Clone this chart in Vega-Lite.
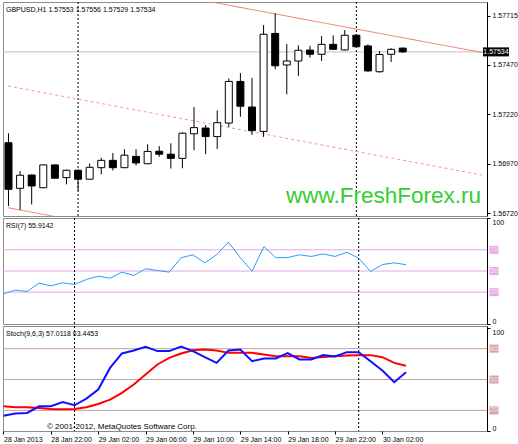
{
  "$schema": "https://vega.github.io/schema/vega-lite/v6.json",
  "background": "white",
  "padding": {"left": 2, "top": 1, "right": 30, "bottom": 6},
  "spacing": 2,
  "bounds": "flush",
  "config": {
    "view": {"stroke": "#8c8c8c", "strokeWidth": 1},
    "font": "Liberation Sans",
    "axis": {"labelFont": "Liberation Sans", "labelFontSize": 7, "labelColor": "#000", "tickColor": "#000", "domainColor": "#000", "grid": false, "tickSize": 3, "labelPadding": 2, "labelOverlap": false},
    "title": {"font": "Liberation Sans", "fontSize": 7, "fontWeight": "normal", "color": "#000", "anchor": "start", "frame": "group", "baseline": "top", "offset": -11, "dx": 3}
  },
  "datasets": {
    "bars": [
      {"t":"2013-01-28T18:00:00Z","o":1.57076,"h":1.57124,"l":1.56757,"c":1.56841,"rsi":28.5,"k":14.9,"d":24.0},
      {"t":"2013-01-28T19:00:00Z","o":1.56846,"h":1.56933,"l":1.56737,"c":1.56912,"rsi":31.9,"k":16.9,"d":23.0},
      {"t":"2013-01-28T20:00:00Z","o":1.56913,"h":1.56916,"l":1.56765,"c":1.56858,"rsi":30.7,"k":17.5,"d":23.0},
      {"t":"2013-01-28T21:00:00Z","o":1.56849,"h":1.56966,"l":1.56846,"c":1.56964,"rsi":38.5,"k":24.0,"d":22.3},
      {"t":"2013-01-28T22:00:00Z","o":1.56964,"h":1.56966,"l":1.56895,"c":1.56897,"rsi":36.0,"k":24.0,"d":21.4},
      {"t":"2013-01-28T23:00:00Z","o":1.56900,"h":1.56941,"l":1.56866,"c":1.56937,"rsi":38.9,"k":28.2,"d":21.1},
      {"t":"2013-01-29T00:00:00Z","o":1.56937,"h":1.56941,"l":1.56833,"c":1.56892,"rsi":37.3,"k":25.0,"d":21.4},
      {"t":"2013-01-29T01:00:00Z","o":1.56892,"h":1.56971,"l":1.56890,"c":1.56952,"rsi":42.0,"k":31.5,"d":23.0},
      {"t":"2013-01-29T02:00:00Z","o":1.56950,"h":1.57000,"l":1.56917,"c":1.56987,"rsi":45.1,"k":40.3,"d":26.2},
      {"t":"2013-01-29T03:00:00Z","o":1.56987,"h":1.57024,"l":1.56936,"c":1.56950,"rsi":43.2,"k":61.3,"d":30.5},
      {"t":"2013-01-29T04:00:00Z","o":1.56950,"h":1.57043,"l":1.56948,"c":1.57013,"rsi":48.9,"k":75.3,"d":37.0},
      {"t":"2013-01-29T05:00:00Z","o":1.57007,"h":1.57043,"l":1.56961,"c":1.56974,"rsi":45.8,"k":78.2,"d":45.1},
      {"t":"2013-01-29T06:00:00Z","o":1.56970,"h":1.57068,"l":1.56968,"c":1.57032,"rsi":52.1,"k":81.7,"d":54.9},
      {"t":"2013-01-29T07:00:00Z","o":1.57033,"h":1.57059,"l":1.57005,"c":1.57018,"rsi":50.5,"k":77.6,"d":64.6},
      {"t":"2013-01-29T08:00:00Z","o":1.57018,"h":1.57073,"l":1.56946,"c":1.56997,"rsi":48.9,"k":77.6,"d":71.0},
      {"t":"2013-01-29T09:00:00Z","o":1.56997,"h":1.57128,"l":1.56947,"c":1.57124,"rsi":62.5,"k":82.1,"d":75.3},
      {"t":"2013-01-29T10:00:00Z","o":1.57121,"h":1.57256,"l":1.57038,"c":1.57152,"rsi":65.3,"k":77.6,"d":78.5},
      {"t":"2013-01-29T11:00:00Z","o":1.57150,"h":1.57165,"l":1.57018,"c":1.57107,"rsi":57.7,"k":71.7,"d":79.2},
      {"t":"2013-01-29T12:00:00Z","o":1.57107,"h":1.57239,"l":1.57044,"c":1.57177,"rsi":65.3,"k":66.2,"d":78.2},
      {"t":"2013-01-29T13:00:00Z","o":1.57175,"h":1.57400,"l":1.57155,"c":1.57385,"rsi":77.2,"k":78.2,"d":75.9},
      {"t":"2013-01-29T14:00:00Z","o":1.57385,"h":1.57427,"l":1.57207,"c":1.57260,"rsi":62.5,"k":79.2,"d":75.9},
      {"t":"2013-01-29T15:00:00Z","o":1.57256,"h":1.57402,"l":1.57115,"c":1.57137,"rsi":49.8,"k":67.8,"d":75.9},
      {"t":"2013-01-29T16:00:00Z","o":1.57133,"h":1.57669,"l":1.57105,"c":1.57623,"rsi":73.1,"k":70.4,"d":74.3},
      {"t":"2013-01-29T17:00:00Z","o":1.57627,"h":1.57729,"l":1.57446,"c":1.57464,"rsi":62.5,"k":70.4,"d":72.7},
      {"t":"2013-01-29T18:00:00Z","o":1.57468,"h":1.57574,"l":1.57320,"c":1.57488,"rsi":62.7,"k":75.6,"d":72.7},
      {"t":"2013-01-29T19:00:00Z","o":1.57488,"h":1.57567,"l":1.57412,"c":1.57542,"rsi":65.3,"k":69.5,"d":72.7},
      {"t":"2013-01-29T20:00:00Z","o":1.57543,"h":1.57565,"l":1.57505,"c":1.57522,"rsi":63.7,"k":69.5,"d":71.0},
      {"t":"2013-01-29T21:00:00Z","o":1.57522,"h":1.57614,"l":1.57488,"c":1.57572,"rsi":66.2,"k":73.7,"d":72.0},
      {"t":"2013-01-29T22:00:00Z","o":1.57572,"h":1.57618,"l":1.57545,"c":1.57547,"rsi":63.7,"k":72.4,"d":72.7},
      {"t":"2013-01-29T23:00:00Z","o":1.57544,"h":1.57644,"l":1.57541,"c":1.57618,"rsi":67.7,"k":76.6,"d":73.4},
      {"t":"2013-01-30T00:00:00Z","o":1.57618,"h":1.57622,"l":1.57558,"c":1.57560,"rsi":62.1,"k":76.6,"d":73.7},
      {"t":"2013-01-30T01:00:00Z","o":1.57564,"h":1.57572,"l":1.57434,"c":1.57438,"rsi":49.5,"k":67.8,"d":73.7},
      {"t":"2013-01-30T02:00:00Z","o":1.57434,"h":1.57538,"l":1.57429,"c":1.57521,"rsi":56.1,"k":58.8,"d":71.7},
      {"t":"2013-01-30T03:00:00Z","o":1.57522,"h":1.57552,"l":1.57483,"c":1.57547,"rsi":57.7,"k":47.4,"d":66.2},
      {"t":"2013-01-30T04:00:00Z","o":1.57553,"h":1.57556,"l":1.57529,"c":1.57534,"rsi":55.9142,"k":57.0118,"d":63.4453}
    ],
    "chan": [
      {"t":"2013-01-28T17:57:28Z","p":1.57977,"ln":"upper"},
      {"t":"2013-01-30T10:50:10Z","p":1.57531,"ln":"upper"},
      {"t":"2013-01-28T17:57:28Z","p":1.56748,"ln":"lower"},
      {"t":"2013-01-30T10:50:10Z","p":1.56301,"ln":"lower"},
      {"t":"2013-01-28T17:57:28Z","p":1.57362,"ln":"mid"},
      {"t":"2013-01-30T10:50:10Z","p":1.56913,"ln":"mid"}
    ],
    "seps": [
      {"t":"2013-01-29T00:00:00Z"},
      {"t":"2013-01-30T00:00:00Z"}
    ],
    "bid": [{"p":1.57534,"label":"1.57534"}],
    "mark": [{"t":"2013-01-30T10:50:00Z","p":1.567734,"txt":"www.FreshForex.ru"}],
    "copy": [{"t":"2013-01-28T21:40:00Z","v":2,"txt":"© 2001-2012, MetaQuotes Software Corp."}],
    "rsiLv": [{"v":70},{"v":50},{"v":30}],
    "stLv": [{"v":80},{"v":50},{"v":20}]
  },
  "vconcat": [
    {
      "width": 484,
      "height": 214,
      "title": {"text": "GBPUSD,H1 1.57553 1.57556 1.57529 1.57534"},
      "layer": [
        {
          "data": {"name": "bid"},
          "mark": {"type": "rule", "color": "#c0c0c0", "strokeWidth": 1},
          "encoding": {
            "y": {"field": "p", "type": "quantitative", "scale": {"domain": [1.567064, 1.577856], "nice": false, "zero": false},
              "axis": {"orient": "right", "title": null, "values": [1.57715, 1.5759, 1.5747, 1.57345, 1.5722, 1.57095, 1.5697, 1.56845, 1.5672], "format": ".5f", "labelFlush": false}}
          }
        },
        {
          "data": {"name": "seps"},
          "mark": {"type": "rule", "color": "#000", "strokeDash": [2, 2], "strokeWidth": 1},
          "encoding": {
            "x": {"field": "t", "type": "temporal", "axis": null, "scale": {"type": "utc", "nice": false, "domain": [{"year":2013,"month":1,"date":28,"hours":17,"minutes":57,"seconds":28,"utc":true},{"year":2013,"month":1,"date":30,"hours":10,"minutes":50,"seconds":10,"utc":true}]}}
          }
        },
        {
          "data": {"name": "chan"},
          "mark": {"type": "line", "clip": true, "strokeWidth": 1},
          "encoding": {
            "x": {"field": "t", "type": "temporal", "axis": null},
            "y": {"field": "p", "type": "quantitative"},
            "detail": {"field": "ln"},
            "color": {"field": "ln", "type": "nominal", "legend": null, "scale": {"domain": ["upper", "lower", "mid"], "range": ["#f07868", "#f07868", "#f39a8a"]}},
            "strokeDash": {"field": "ln", "type": "nominal", "legend": null, "scale": {"domain": ["upper", "lower", "mid"], "range": [[1, 0], [1, 0], [3, 3]]}}
          }
        },
        {
          "data": {"name": "bars"},
          "mark": {"type": "rule", "color": "#000", "strokeWidth": 1, "clip": true},
          "encoding": {
            "x": {"field": "t", "type": "temporal", "axis": null},
            "y": {"field": "l", "type": "quantitative"},
            "y2": {"field": "h"}
          }
        },
        {
          "data": {"name": "bars"},
          "mark": {"type": "bar", "width": 7, "stroke": "#000", "strokeWidth": 1, "orient": "vertical", "clip": true},
          "encoding": {
            "x": {"field": "t", "type": "temporal", "axis": null},
            "y": {"field": "o", "type": "quantitative"},
            "y2": {"field": "c"},
            "fill": {"condition": {"test": "datum.c >= datum.o", "value": "#ffffff"}, "value": "#000000"}
          }
        },
        {
          "data": {"name": "mark"},
          "mark": {"type": "text", "align": "right", "baseline": "alphabetic", "font": "Liberation Sans", "fontSize": 22.5, "color": "#32cd32", "dx": -1},
          "encoding": {
            "x": {"field": "t", "type": "temporal", "axis": null},
            "y": {"field": "p", "type": "quantitative"},
            "text": {"field": "txt"}
          }
        },
        {
          "data": {"name": "bid"},
          "mark": {"type": "tick", "orient": "horizontal", "size": 26, "thickness": 9, "color": "#000", "xOffset": 14, "opacity": 1},
          "encoding": {
            "x": {"datum": {"year":2013,"month":1,"date":30,"hours":10,"minutes":50,"seconds":10,"utc":true}, "type": "temporal"},
            "y": {"field": "p", "type": "quantitative"}
          }
        },
        {
          "data": {"name": "bid"},
          "mark": {"type": "text", "align": "center", "baseline": "middle", "fontSize": 7, "color": "#fff", "dx": 14},
          "encoding": {
            "x": {"datum": {"year":2013,"month":1,"date":30,"hours":10,"minutes":50,"seconds":10,"utc":true}, "type": "temporal"},
            "y": {"field": "p", "type": "quantitative"},
            "text": {"field": "label"}
          }
        }
      ]
    },
    {
      "width": 484,
      "height": 106,
      "title": {"text": "RSI(7) 55.9142"},
      "layer": [
        {
          "data": {"name": "rsiLv"},
          "mark": {"type": "rule", "color": "#e6a6e6", "strokeWidth": 1},
          "encoding": {
            "y": {"field": "v", "type": "quantitative", "scale": {"domain": [0, 100], "nice": false, "zero": false},
              "axis": {"orient": "right", "title": null, "values": [0, 100], "format": "d", "labelFlush": 3}}
          }
        },
        {
          "data": {"name": "seps"},
          "mark": {"type": "rule", "color": "#000", "strokeDash": [2, 2], "strokeWidth": 1},
          "encoding": {
            "x": {"field": "t", "type": "temporal", "axis": null, "scale": {"type": "utc", "nice": false, "domain": [{"year":2013,"month":1,"date":28,"hours":17,"minutes":57,"seconds":28,"utc":true},{"year":2013,"month":1,"date":30,"hours":10,"minutes":50,"seconds":10,"utc":true}]}}
          }
        },
        {
          "data": {"name": "bars"},
          "mark": {"type": "line", "color": "#2f9bff", "strokeWidth": 1, "clip": true},
          "encoding": {
            "x": {"field": "t", "type": "temporal", "axis": null},
            "y": {"field": "rsi", "type": "quantitative"}
          }
        },
        {
          "data": {"name": "rsiLv"},
          "mark": {"type": "tick", "orient": "horizontal", "size": 9, "thickness": 8, "color": "#e4a8e4", "xOffset": 7, "opacity": 1},
          "encoding": {
            "x": {"datum": {"year":2013,"month":1,"date":30,"hours":10,"minutes":50,"seconds":10,"utc":true}, "type": "temporal"},
            "y": {"field": "v", "type": "quantitative"}
          }
        },
        {
          "data": {"name": "rsiLv"},
          "mark": {"type": "text", "align": "center", "baseline": "middle", "fontSize": 7, "color": "#fbe6fb", "dx": 7},
          "encoding": {
            "x": {"datum": {"year":2013,"month":1,"date":30,"hours":10,"minutes":50,"seconds":10,"utc":true}, "type": "temporal"},
            "y": {"field": "v", "type": "quantitative"},
            "text": {"field": "v", "type": "quantitative"}
          }
        }
      ]
    },
    {
      "width": 484,
      "height": 105,
      "title": {"text": "Stoch(9,6,3) 57.0118 63.4453"},
      "layer": [
        {
          "data": {"name": "stLv"},
          "mark": {"type": "rule", "color": "#c8a0a0", "strokeWidth": 1},
          "encoding": {
            "y": {"field": "v", "type": "quantitative", "scale": {"domain": [0, 102], "nice": false, "zero": false},
              "axis": {"orient": "right", "title": null, "values": [0, 100], "format": "d", "labelFlush": 4}}
          }
        },
        {
          "data": {"name": "seps"},
          "mark": {"type": "rule", "color": "#000", "strokeDash": [2, 2], "strokeWidth": 1},
          "encoding": {
            "x": {"field": "t", "type": "temporal", "title": null,
              "scale": {"type": "utc", "nice": false, "domain": [{"year":2013,"month":1,"date":28,"hours":17,"minutes":57,"seconds":28,"utc":true},{"year":2013,"month":1,"date":30,"hours":10,"minutes":50,"seconds":10,"utc":true}]},
              "axis": {"orient": "bottom", "domain": false, "labelAlign": "left", "labelPadding": 1, "labelFlush": false, "labelOverlap": false,
                "values": [
                  {"year":2013,"month":1,"date":28,"hours":18,"utc":true},
                  {"year":2013,"month":1,"date":28,"hours":22,"utc":true},
                  {"year":2013,"month":1,"date":29,"hours":2,"utc":true},
                  {"year":2013,"month":1,"date":29,"hours":6,"utc":true},
                  {"year":2013,"month":1,"date":29,"hours":10,"utc":true},
                  {"year":2013,"month":1,"date":29,"hours":14,"utc":true},
                  {"year":2013,"month":1,"date":29,"hours":18,"utc":true},
                  {"year":2013,"month":1,"date":29,"hours":22,"utc":true},
                  {"year":2013,"month":1,"date":30,"hours":2,"utc":true}
                ],
                "labelExpr": "utcFormat(datum.value, '%d %H') == '28 18' ? '28 Jan 2013' : utcFormat(datum.value, '%d %b %H:%M')"}}
          }
        },
        {
          "data": {"name": "bars"},
          "mark": {"type": "line", "color": "#ff0000", "strokeWidth": 2, "clip": true},
          "encoding": {
            "x": {"field": "t", "type": "temporal"},
            "y": {"field": "d", "type": "quantitative"}
          }
        },
        {
          "data": {"name": "bars"},
          "mark": {"type": "line", "color": "#1010ff", "strokeWidth": 2, "clip": true},
          "encoding": {
            "x": {"field": "t", "type": "temporal"},
            "y": {"field": "k", "type": "quantitative"}
          }
        },
        {
          "data": {"name": "copy"},
          "mark": {"type": "text", "align": "left", "baseline": "alphabetic", "fontSize": 8, "color": "#000"},
          "encoding": {
            "x": {"field": "t", "type": "temporal"},
            "y": {"field": "v", "type": "quantitative"},
            "text": {"field": "txt"}
          }
        },
        {
          "data": {"name": "stLv"},
          "mark": {"type": "tick", "orient": "horizontal", "size": 9, "thickness": 8, "color": "#d4a4a4", "xOffset": 7, "opacity": 1},
          "encoding": {
            "x": {"datum": {"year":2013,"month":1,"date":30,"hours":10,"minutes":50,"seconds":10,"utc":true}, "type": "temporal"},
            "y": {"field": "v", "type": "quantitative"}
          }
        },
        {
          "data": {"name": "stLv"},
          "mark": {"type": "text", "align": "center", "baseline": "middle", "fontSize": 7, "color": "#f7e4e4", "dx": 7},
          "encoding": {
            "x": {"datum": {"year":2013,"month":1,"date":30,"hours":10,"minutes":50,"seconds":10,"utc":true}, "type": "temporal"},
            "y": {"field": "v", "type": "quantitative"},
            "text": {"field": "v", "type": "quantitative"}
          }
        }
      ]
    }
  ]
}
